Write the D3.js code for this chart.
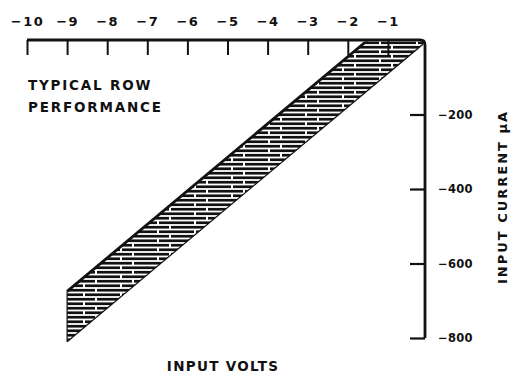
<!DOCTYPE html>
<html>
<head>
<meta charset="utf-8">
<script src="https://cdn.jsdelivr.net/npm/d3@7"></script>
<style>
  html, body { margin: 0; padding: 0; background: #fff; }
  svg { display: block; }
  text { font-family: "DejaVu Sans", sans-serif; font-weight: bold; fill: #111; }
</style>
</head>
<body>
<svg id="chart" width="514" height="376"></svg>
<script>
// Input volts along the top, input current (µA) down the right side
const voltTicks = [-10, -9, -8, -7, -6, -5, -4, -3, -2, -1];
const currentTicks = [-200, -400, -600, -800];

// Spread of typical row performance: upper and lower boundary of the band
const upperVolts = [-9, -1.5];
const upperCurrent = [-675, 0];
const lowerVolts = [-9, 0];
const lowerCurrent = [-810, 0];

const titleLines = ["TYPICAL ROW", "PERFORMANCE"];
const xTitle = "INPUT VOLTS";
const yTitle = "INPUT CURRENT µA";

const svg = d3.select("#chart");

const x = d3.scaleLinear().domain([-10, 0]).range([27, 428]);
const y = d3.scaleLinear().domain([0, -800]).range([40, 338]);
const frameRight = 425;
const ink = "#111";

// Hatching: dense, slightly broken horizontal strokes
const defs = svg.append("defs");
const pat = defs.append("pattern")
  .attr("id", "hatch").attr("patternUnits", "userSpaceOnUse")
  .attr("width", 37).attr("height", 9);
[[2.25, [[0, 21], [23, 37]]], [6.75, [[0, 9], [11, 37]]]].forEach(([py, segs]) => {
  segs.forEach(([a, b]) => {
    pat.append("line").attr("x1", a).attr("x2", b).attr("y1", py).attr("y2", py)
      .attr("stroke", ink).attr("stroke-width", 2.7);
  });
});
defs.append("clipPath").attr("id", "plotClip")
  .append("rect")
  .attr("x", x(-10)).attr("y", y(0) + 1.5)
  .attr("width", frameRight - 1.5 - x(-10)).attr("height", y(-800) + 10 - y(0));

// Band polygon built from the two boundaries
const upperPts = upperVolts.map((v, i) => [x(v), y(upperCurrent[i])]);
const lowerPts = lowerVolts.map((v, i) => [x(v), y(lowerCurrent[i])]);
const poly = upperPts.concat(lowerPts.slice().reverse());

const band = svg.append("g").attr("clip-path", "url(#plotClip)");
band.append("path")
  .attr("d", d3.line()(poly) + "Z")
  .attr("fill", "url(#hatch)");
band.append("path")
  .attr("d", d3.line()(upperPts))
  .attr("fill", "none").attr("stroke", ink).attr("stroke-width", 2.8);
band.append("path")
  .attr("d", d3.line()(lowerPts))
  .attr("fill", "none").attr("stroke", ink).attr("stroke-width", 1.2);
band.append("path")
  .attr("d", d3.line()([upperPts[0], lowerPts[0]]))
  .attr("fill", "none").attr("stroke", ink).attr("stroke-width", 1.2);

// Top axis (volts): ticks hang down from the frame line
const topAxis = svg.append("g")
  .attr("transform", `translate(0,${y(0)})`)
  .call(d3.axisTop(x).tickValues(voltTicks)
    .tickSizeInner(-15).tickSizeOuter(0).tickPadding(14)
    .tickFormat(d => "\u2212" + Math.abs(d)));
topAxis.select(".domain").remove();
topAxis.selectAll(".tick line").attr("stroke", ink).attr("stroke-width", 2);
topAxis.selectAll(".tick text")
  .attr("font-size", 13).attr("letter-spacing", 1.5)
  .attr("font-family", "DejaVu Sans").attr("fill", ink);

// Right axis (current): ticks point inward, labels outside
const rightAxis = svg.append("g")
  .attr("transform", `translate(${frameRight},0)`)
  .call(d3.axisRight(y).tickValues(currentTicks)
    .tickSizeInner(-15).tickSizeOuter(0).tickPadding(13)
    .tickFormat(d => "\u2212" + Math.abs(d)));
rightAxis.select(".domain").remove();
rightAxis.selectAll(".tick line").attr("stroke", ink).attr("stroke-width", 2.2);
rightAxis.selectAll(".tick text")
  .attr("font-size", 11.5).attr("letter-spacing", 0.3)
  .attr("font-family", "DejaVu Sans").attr("fill", ink);

// Frame: top line with a rounded corner into the right line
const r = 5;
const frame = d3.path();
frame.moveTo(x(-10), y(0));
frame.lineTo(frameRight - r, y(0));
frame.quadraticCurveTo(frameRight, y(0), frameRight, y(0) + r);
frame.lineTo(frameRight, y(-800));
svg.append("path").attr("d", frame.toString())
  .attr("fill", "none").attr("stroke", ink).attr("stroke-width", 2.8)
  .attr("stroke-linejoin", "round");

// Inset caption
svg.append("g").selectAll("text").data(titleLines).join("text")
  .attr("x", 28).attr("y", (d, i) => 90 + i * 22)
  .attr("font-size", 13.5).attr("letter-spacing", 1.8)
  .text(d => d);

// Axis titles
svg.append("text")
  .attr("x", 223).attr("y", 371)
  .attr("text-anchor", "middle")
  .attr("font-size", 13.5).attr("letter-spacing", 1.3)
  .text(xTitle);

svg.append("text")
  .attr("transform", "translate(502,197) rotate(-90)")
  .attr("text-anchor", "middle").attr("dominant-baseline", "central")
  .attr("font-size", 13).attr("letter-spacing", 2)
  .text(yTitle);
</script>
</body>
</html>
